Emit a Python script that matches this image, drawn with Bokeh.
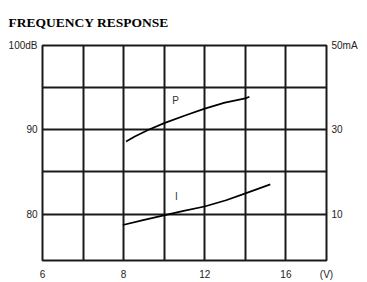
import numpy as np
from bokeh.plotting import figure
from bokeh.models import Range1d, LinearAxis, FixedTicker, Label
from bokeh.embed import file_html
from bokeh.resources import INLINE

# Axis definition: grid lines in volts (non-uniform scale) and their slot positions
grid_volts = [6, 7, 8, 10, 12, 14, 16, 18]
x_tick_volts = [6, 8, 12, 16]
x_tick_labels = ["6", "8", "12", "16"]
x_unit_label = "(V)"

db_ticks = [80, 90, 100]
db_labels = ["80", "90", "100dB"]
db_grid = [80, 85, 90, 95]
ma_ticks = [10, 30, 50]
ma_labels = ["10", "30", "50mA"]

# P curve (sound pressure, dB)
p_volts = [8.12, 8.55, 9.23, 10.0, 11.06, 12.0, 12.99, 14.0, 14.2]
p_db = [88.62, 89.21, 90.0, 90.79, 91.73, 92.51, 93.22, 93.73, 93.92]

# I curve (current, mA)
i_volts = [7.98, 8.96, 9.98, 10.96, 11.99, 13.05, 13.97, 15.23]
i_ma = [7.41, 8.59, 9.69, 10.78, 11.81, 13.29, 14.87, 17.06]

title_text = "FREQUENCY RESPONSE"

slots = np.arange(len(grid_volts))


def vpos(v):
    return np.interp(v, grid_volts, slots)


p = figure(width=367, height=282, output_backend="svg", toolbar_location=None,
           x_range=Range1d(0, len(grid_volts) - 1), y_range=Range1d(74.5, 100),
           min_border_left=42, min_border_right=41, min_border_top=45,
           min_border_bottom=20, x_axis_location=None, y_axis_location=None)
p.extra_y_ranges = {"mA": Range1d(-1, 50)}
p.background_fill_color = "white"
p.border_fill_color = "white"
p.outline_line_color = "#1a1a1a"
p.outline_line_width = 2

font = "Liberation Sans"

xax = LinearAxis(ticker=FixedTicker(ticks=list(vpos(x_tick_volts)) + [slots[-1]]))
xax.major_label_overrides = {float(k): v for k, v in zip(vpos(x_tick_volts), x_tick_labels)}
xax.major_label_overrides[float(slots[-1])] = x_unit_label
p.add_layout(xax, "below")

lax = LinearAxis(ticker=FixedTicker(ticks=db_ticks))
lax.major_label_overrides = dict(zip(db_ticks, db_labels))
p.add_layout(lax, "left")

rax = LinearAxis(y_range_name="mA", ticker=FixedTicker(ticks=ma_ticks))
rax.major_label_overrides = dict(zip(ma_ticks, ma_labels))
p.add_layout(rax, "right")

for ax in (xax, lax, rax):
    ax.axis_line_color = None
    ax.major_tick_line_color = None
    ax.minor_tick_line_color = None
    ax.major_tick_out = 0
    ax.major_tick_in = 0
    ax.major_label_text_font = font
    ax.major_label_text_font_size = "10px"
    ax.major_label_text_color = "#222222"
    ax.major_label_standoff = 5
xax.major_label_standoff = 8

# grid
p.xgrid.ticker = FixedTicker(ticks=list(slots[1:-1]))
p.ygrid.ticker = FixedTicker(ticks=db_grid)
for g in (p.xgrid[0], p.ygrid[0]):
    g.grid_line_color = "#1a1a1a"
    g.grid_line_width = 2

p.line(vpos(p_volts), p_db, line_color="black", line_width=1.7, line_join="round")
p.line(vpos(i_volts), i_ma, line_color="black", line_width=1.7, line_join="round",
       y_range_name="mA")

p.add_layout(Label(x=vpos(10.56), y=93.5, text="P", text_font=font, text_font_size="10px",
                   text_color="#333333", text_align="center", text_baseline="middle"))
p.add_layout(Label(x=vpos(10.6), y=14.2, y_range_name="mA", text="I", text_font=font,
                   text_font_size="10px", text_color="#333333", text_align="center",
                   text_baseline="middle"))

p.title.text = title_text
p.title.text_font = "Liberation Serif"
p.title.text_font_style = "bold"
p.title.text_font_size = "13.5px"
p.title.text_color = "black"
p.title.align = "left"
p.title.vertical_align = "top"
p.title.offset = -34
p.title.standoff = 27

open("out.html", "w").write(file_html(p, INLINE))
